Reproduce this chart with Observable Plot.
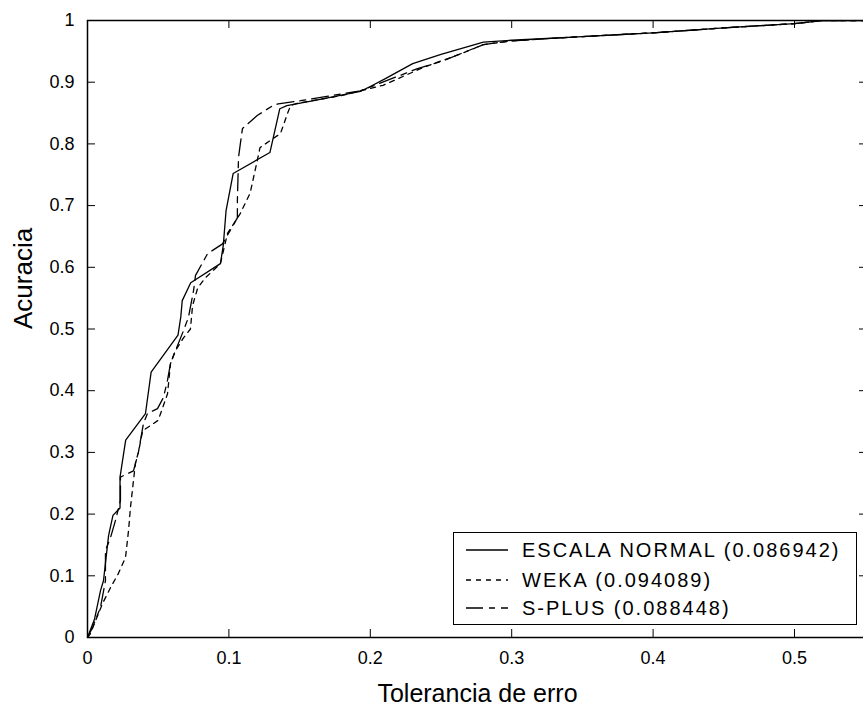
<!DOCTYPE html>
<html>
<head>
<meta charset="utf-8">
<script src="https://cdn.jsdelivr.net/npm/d3@7"></script>
<script src="https://cdn.jsdelivr.net/npm/@observablehq/plot@0.6"></script>
<style>
  html, body { margin: 0; padding: 0; background: white; overflow: hidden; }
  #wrap { position: relative; width: 863px; height: 708px; font-family: "Liberation Sans", Arial, sans-serif; }
  #legend { position: absolute; left: 453px; top: 532px; width: 402px; height: 91px;
            border: 1.5px solid black; background: white; }
  .row { position: absolute; left: 0; height: 28px; width: 100%; }
  .row svg { position: absolute; left: 11px; top: 0; }
  .row span { position: absolute; left: 68px; top: 0; line-height: 28px; font-size: 20px; letter-spacing: 2px; color: #000; white-space: nowrap; }
</style>
</head>
<body>
<div id="wrap"></div>
<script>
// ---- data ----
const normalX = [0, 0.005, 0.0092, 0.0113, 0.0149, 0.018, 0.023, 0.023, 0.027, 0.041, 0.045, 0.064, 0.066, 0.067, 0.073, 0.094, 0.096, 0.098, 0.103, 0.129, 0.136, 0.141, 0.16, 0.193, 0.2, 0.21, 0.23, 0.25, 0.28, 0.3, 0.35, 0.4, 0.45, 0.5, 0.52, 0.56];
const normalY = [0, 0.03, 0.076, 0.092, 0.165, 0.198, 0.21, 0.26, 0.32, 0.363, 0.43, 0.49, 0.52, 0.546, 0.575, 0.606, 0.635, 0.692, 0.752, 0.786, 0.857, 0.862, 0.87, 0.885, 0.893, 0.905, 0.93, 0.945, 0.965, 0.968, 0.974, 0.98, 0.988, 0.995, 1, 1];

const wekaX = [0, 0.002, 0.0106, 0.0163, 0.0219, 0.0269, 0.029, 0.0304, 0.0325, 0.034, 0.036, 0.039, 0.05, 0.0566, 0.0587, 0.0622, 0.068, 0.0728, 0.0743, 0.078, 0.0834, 0.094, 0.099, 0.108, 0.115, 0.119, 0.122, 0.129, 0.1365, 0.1414, 0.1436, 0.1485, 0.179, 0.209, 0.2376, 0.264, 0.28, 0.3, 0.35, 0.4, 0.45, 0.5, 0.52, 0.56];
const wekaY = [0, 0.006, 0.055, 0.081, 0.104, 0.13, 0.173, 0.211, 0.254, 0.284, 0.30, 0.335, 0.352, 0.395, 0.444, 0.465, 0.486, 0.50, 0.538, 0.567, 0.583, 0.606, 0.655, 0.687, 0.72, 0.762, 0.794, 0.805, 0.817, 0.849, 0.862, 0.866, 0.878, 0.895, 0.924, 0.946, 0.961, 0.967, 0.974, 0.98, 0.988, 0.995, 1, 1];

const splusX = [0, 0.0035, 0.0092, 0.0127, 0.0127, 0.0163, 0.0198, 0.0233, 0.0233, 0.0325, 0.036, 0.0375, 0.0396, 0.0424, 0.0495, 0.0537, 0.0566, 0.0587, 0.0622, 0.068, 0.0714, 0.075, 0.0764, 0.0849, 0.0955, 0.106, 0.106, 0.1068, 0.1082, 0.1096, 0.12, 0.131, 0.135, 0.1506, 0.193, 0.2334, 0.2518, 0.28, 0.3, 0.35, 0.4, 0.45, 0.5, 0.52, 0.56];
const splusY = [0, 0.016, 0.049, 0.092, 0.141, 0.162, 0.19, 0.222, 0.26, 0.27, 0.30, 0.32, 0.347, 0.363, 0.371, 0.389, 0.417, 0.444, 0.465, 0.498, 0.519, 0.562, 0.587, 0.622, 0.638, 0.68, 0.708, 0.778, 0.802, 0.825, 0.846, 0.862, 0.865, 0.87, 0.886, 0.922, 0.935, 0.961, 0.967, 0.974, 0.98, 0.988, 0.995, 1, 1];

const seriesNames = ["ESCALA NORMAL (0.086942)", "WEKA (0.094089)", "S-PLUS (0.088448)"];
const xTicks = [0, 0.1, 0.2, 0.3, 0.4, 0.5];
const xTickLabels = ["0", "0.1", "0.2", "0.3", "0.4", "0.5"];
const yTicks = [0, 0.1, 0.2, 0.3, 0.4, 0.5, 0.6, 0.7, 0.8, 0.9, 1];
const yTickLabels = ["0", "0.1", "0.2", "0.3", "0.4", "0.5", "0.6", "0.7", "0.8", "0.9", "1"];
const xLabel = "Tolerancia de erro";
const yLabel = "Acuracia";

// ---- layout ----
const W = 863, H = 708;
const mL = 87, mT = 20, mB = 71, mR = -4;
const innerW = W - mL - mR, innerH = H - mT - mB;
const xMax = innerW / 1414;
const dashes = ["none", "5,5", "17,6,6,6"];

const toRows = (xs, ys) => xs.map((x, i) => ({x, y: ys[i]}));
const normal = toRows(normalX, normalY);
const weka = toRows(wekaX, wekaY);
const splus = toRows(splusX, splusY);

const font = "'Liberation Sans', Arial, sans-serif";

const chart = Plot.plot({
  width: W, height: H,
  marginLeft: mL, marginRight: mR, marginTop: mT, marginBottom: mB,
  style: {fontFamily: font, overflow: "hidden", background: "white", color: "black"},
  x: {domain: [0, xMax]},
  y: {domain: [0, 1]},
  marks: [
    Plot.line(weka, {x: "x", y: "y", stroke: "black", strokeWidth: 1.3, strokeDasharray: dashes[1], clip: true}),
    Plot.line(splus, {x: "x", y: "y", stroke: "black", strokeWidth: 1.3, strokeDasharray: dashes[2], clip: true}),
    Plot.line(normal, {x: "x", y: "y", stroke: "black", strokeWidth: 1.3, clip: true}),
    Plot.frame({stroke: "black", strokeWidth: 1.5}),
    Plot.tickY(yTicks, {y: d => d, stroke: "black", insetRight: innerW - 8}),
    Plot.tickY(yTicks, {y: d => d, stroke: "black", insetLeft: innerW - 8}),
    Plot.tickX(xTicks, {x: d => d, stroke: "black", insetTop: innerH - 8}),
    Plot.tickX(xTicks, {x: d => d, stroke: "black", insetBottom: innerH - 8}),
    Plot.axisY({ticks: yTicks, tickSize: 0, tickPadding: 13, tickFormat: d => yTickLabels[yTicks.indexOf(d)], label: null, fontSize: 18, style: {letterSpacing: "1px"}}),
    Plot.axisX({ticks: xTicks, tickSize: 0, tickPadding: 14, tickFormat: d => xTickLabels[xTicks.indexOf(d)], label: null, fontSize: 18}),
    Plot.text([xLabel], {text: d => d, frameAnchor: "bottom", lineAnchor: "bottom", dy: 64, fontSize: 25, fill: "black", style: {letterSpacing: "0.6px"}}),
    Plot.text([yLabel], {text: d => d, frameAnchor: "left", dx: -64, rotate: -90, fontSize: 26, fill: "black"})
  ]
});
const wrap = document.getElementById("wrap");
wrap.appendChild(chart);

// ---- legend ----
const legend = d3.select(wrap).append("div").attr("id", "legend");
const rowTops = [3, 33, 61];
seriesNames.forEach((name, i) => {
  const row = legend.append("div").attr("class", "row").style("top", rowTops[i] + "px");
  const svg = row.append("svg").attr("width", 44).attr("height", 28);
  svg.append("line").attr("x1", 1).attr("x2", 43).attr("y1", 14).attr("y2", 14)
     .attr("stroke", "black").attr("stroke-width", 1.3)
     .attr("stroke-dasharray", dashes[i]);
  row.append("span").text(name);
});
</script>
</body>
</html>
